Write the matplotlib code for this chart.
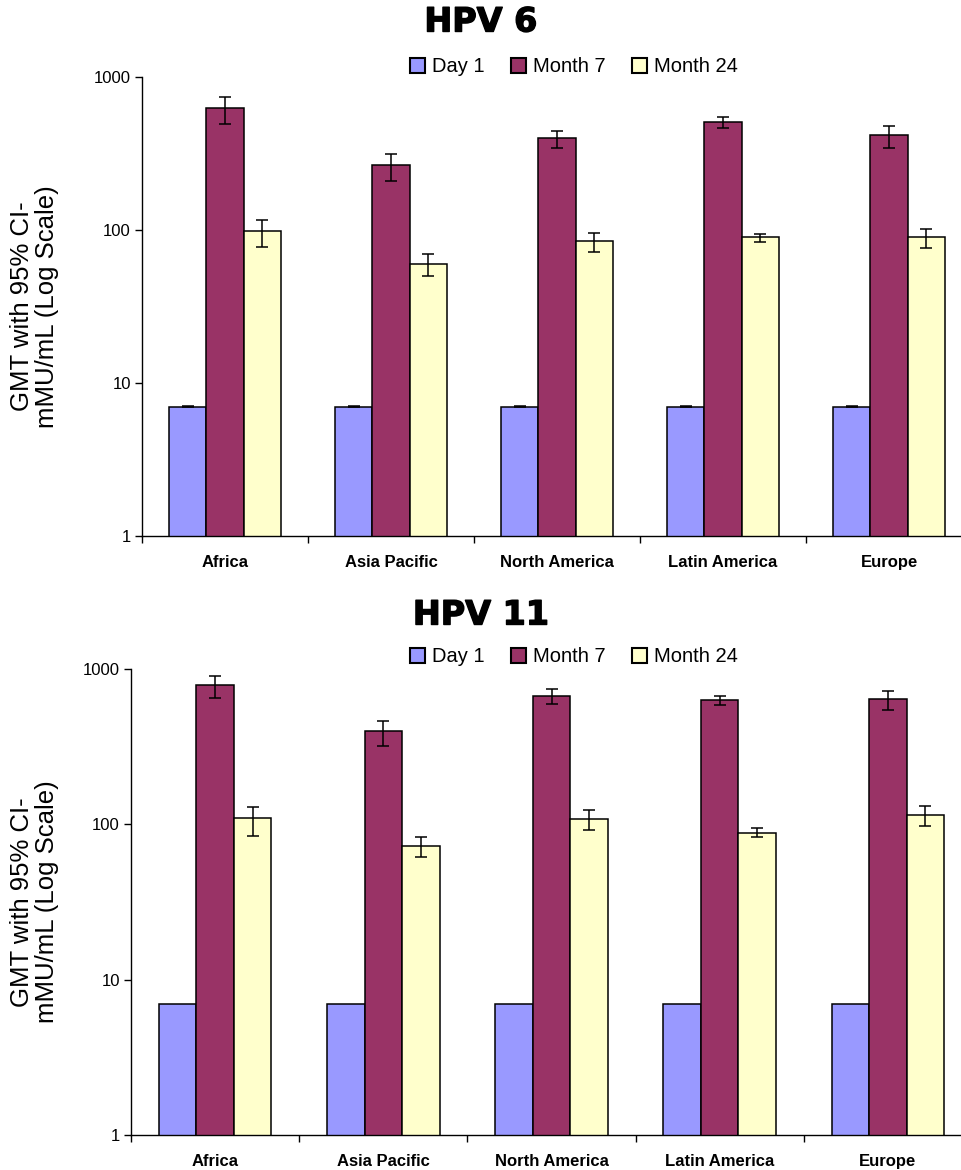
import matplotlib
matplotlib.use("Agg")
import matplotlib.pyplot as plt
import matplotlib.patheffects as pe
from matplotlib.patches import Patch
from matplotlib.ticker import FixedLocator, NullLocator
import numpy as np

plt.rcParams['font.family'] = ['Liberation Sans', 'DejaVu Sans']

regions = ['Africa', 'Asia Pacific', 'North America', 'Latin America', 'Europe']
series_names = ['Day 1', 'Month 7', 'Month 24']
colors = ['#9999FF', '#993366', '#FFFFCC']

# HPV 6
hpv6_day1 = [7, 7, 7, 7, 7]
hpv6_day1_lo = [6.93, 6.93, 6.93, 6.93, 6.93]
hpv6_day1_hi = [7.07, 7.07, 7.07, 7.07, 7.07]
hpv6_m7 = [627, 266, 399, 508, 418]
hpv6_m7_lo = [493, 209, 344, 464, 344]
hpv6_m7_hi = [740, 314, 444, 548, 478]
hpv6_m24 = [98.5, 60, 85, 90, 90]
hpv6_m24_lo = [77, 50, 72, 83.5, 76]
hpv6_m24_hi = [116, 70, 96, 94, 102]

# HPV 11
hpv11_day1 = [7, 7, 7, 7, 7]
hpv11_m7 = [790, 399, 671, 632, 642]
hpv11_m7_lo = [651, 320, 596, 587, 545]
hpv11_m7_hi = [903, 463, 745, 671, 722]
hpv11_m24 = [110, 72.6, 108, 88, 115]
hpv11_m24_lo = [84, 61.7, 92, 83, 97.7]
hpv11_m24_hi = [129, 83, 124, 94.8, 131]

W, H = 962, 1170
fig = plt.figure(figsize=(W / 100, H / 100), dpi=100)


def draw_panel(rect, title, title_y, legend_y, series):
    ax = fig.add_axes(rect)
    x = np.arange(len(regions))
    bw = 0.223
    for i, (vals, lo, hi) in enumerate(series):
        vals = np.array(vals, dtype=float)
        pos = x + (i - 1) * bw
        ax.bar(pos, vals, width=bw, color=colors[i], edgecolor='black',
               linewidth=1.1, zorder=2)
        if lo is not None:
            err = [vals - np.array(lo), np.array(hi) - vals]
            ax.errorbar(pos, vals, yerr=err, fmt='none', ecolor='black',
                        elinewidth=1.1, capsize=4, capthick=1.1, zorder=3)
    ax.set_yscale('log')
    ax.set_ylim(1, 1000)
    ax.set_xlim(-0.5, len(regions) - 0.5)
    ax.yaxis.set_major_locator(FixedLocator([1, 10, 100, 1000]))
    ax.yaxis.set_minor_locator(NullLocator())
    ax.set_yticklabels(['1', '10', '100', '1000'], fontsize=12)
    ax.set_xticks(x)
    ax.set_xticklabels(regions, fontsize=12, fontweight='bold')
    ax.set_xticks(np.arange(len(regions) + 1) - 0.5, minor=True)
    ax.tick_params(axis='x', which='major', length=0, pad=14)
    ax.tick_params(axis='x', which='minor', length=5, width=1, direction='out')
    ax.tick_params(axis='y', length=5, width=1, direction='out', pad=3)
    for s in ['top', 'right']:
        ax.spines[s].set_visible(False)
    for s in ['left', 'bottom']:
        ax.spines[s].set_linewidth(1.0)
    ax.set_ylabel('GMT with 95% CI-\nmMU/mL (Log Scale)', fontsize=18.5,
                  linespacing=1.05)
    # right edge of the rotated label sits ~59 px from the figure's left edge
    ax.yaxis.set_label_coords((59 - rect[0] * W) / (rect[2] * W), 0.5)
    fig.text(481 / W, 1 - title_y / H, title, ha='center', va='center',
             fontsize=24, fontweight='bold', family='DejaVu Sans',
             path_effects=[pe.withStroke(linewidth=1.0, foreground='black')])
    handles = [Patch(facecolor=c, edgecolor='black', linewidth=1.5) for c in colors]
    fig.legend(handles, series_names, loc='center', ncol=3, frameon=False,
               bbox_to_anchor=(574 / W, 1 - legend_y / H), fontsize=14.5,
               handlelength=0.75, handleheight=0.75, handletextpad=0.35,
               columnspacing=1.3)
    return ax


draw_panel([142 / W, (H - 536) / H, 830 / W, 459 / H], 'HPV 6', 22, 67,
           [(hpv6_day1, hpv6_day1_lo, hpv6_day1_hi),
            (hpv6_m7, hpv6_m7_lo, hpv6_m7_hi),
            (hpv6_m24, hpv6_m24_lo, hpv6_m24_hi)])

draw_panel([131 / W, (H - 1135) / H, 841 / W, 466 / H], 'HPV 11', 615, 657,
           [(hpv11_day1, None, None),
            (hpv11_m7, hpv11_m7_lo, hpv11_m7_hi),
            (hpv11_m24, hpv11_m24_lo, hpv11_m24_hi)])

fig.savefig('out.png', dpi=100)
